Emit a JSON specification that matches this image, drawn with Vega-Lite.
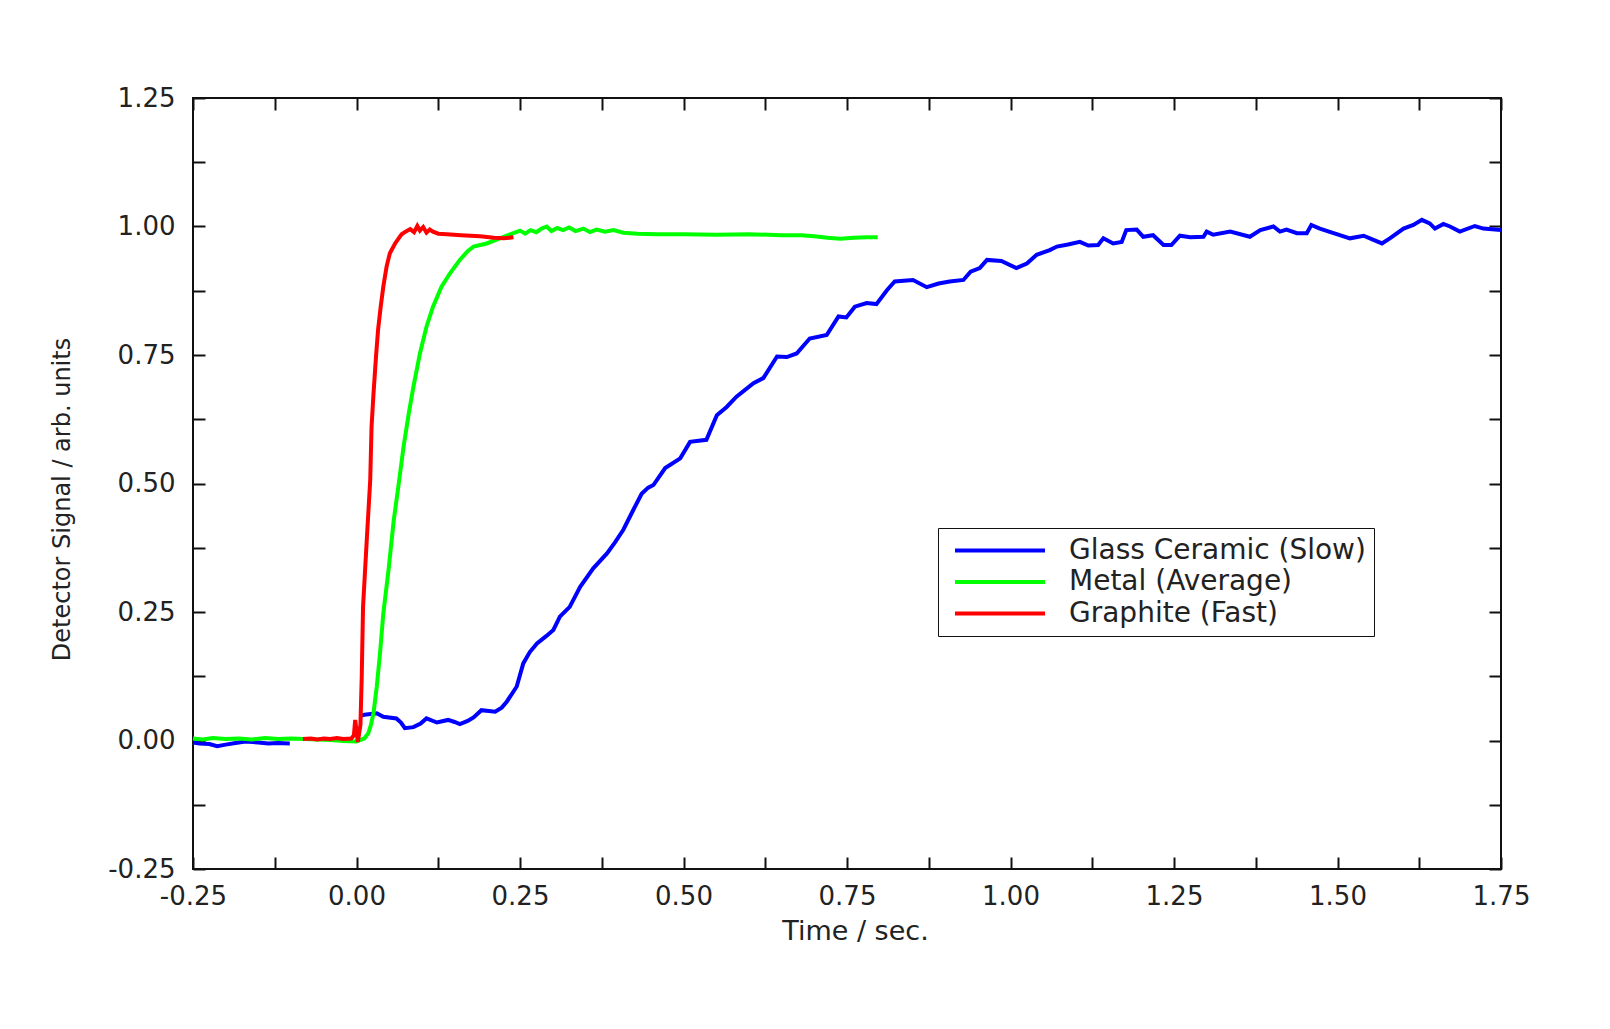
{
  "$schema": "https://vega.github.io/schema/vega-lite/v6.json",
  "width": 1308,
  "height": 771,
  "autosize": {"type": "none"},
  "padding": {"left": 193, "top": 98, "right": 109, "bottom": 160},
  "background": "white",
  "config": {
    "font": "DejaVu Sans",
    "view": {"stroke": "#111", "strokeWidth": 2}
  },
  "data": {
    "values": [
      {"series": "Glass Ceramic (Slow)", "part": "a", "t": -0.25, "v": -0.004},
      {"series": "Glass Ceramic (Slow)", "part": "a", "t": -0.24, "v": -0.006},
      {"series": "Glass Ceramic (Slow)", "part": "a", "t": -0.225, "v": -0.007},
      {"series": "Glass Ceramic (Slow)", "part": "a", "t": -0.213, "v": -0.011},
      {"series": "Glass Ceramic (Slow)", "part": "a", "t": -0.2, "v": -0.008},
      {"series": "Glass Ceramic (Slow)", "part": "a", "t": -0.185, "v": -0.005},
      {"series": "Glass Ceramic (Slow)", "part": "a", "t": -0.17, "v": -0.002},
      {"series": "Glass Ceramic (Slow)", "part": "a", "t": -0.15, "v": -0.004},
      {"series": "Glass Ceramic (Slow)", "part": "a", "t": -0.135, "v": -0.006},
      {"series": "Glass Ceramic (Slow)", "part": "a", "t": -0.12, "v": -0.005},
      {"series": "Glass Ceramic (Slow)", "part": "a", "t": -0.102, "v": -0.006},
      {"series": "Glass Ceramic (Slow)", "part": "b", "t": 0.005, "v": 0.048},
      {"series": "Glass Ceramic (Slow)", "part": "b", "t": 0.012, "v": 0.05},
      {"series": "Glass Ceramic (Slow)", "part": "b", "t": 0.031, "v": 0.053},
      {"series": "Glass Ceramic (Slow)", "part": "b", "t": 0.041, "v": 0.046},
      {"series": "Glass Ceramic (Slow)", "part": "b", "t": 0.061, "v": 0.043},
      {"series": "Glass Ceramic (Slow)", "part": "b", "t": 0.068, "v": 0.035},
      {"series": "Glass Ceramic (Slow)", "part": "b", "t": 0.074, "v": 0.024},
      {"series": "Glass Ceramic (Slow)", "part": "b", "t": 0.087, "v": 0.026},
      {"series": "Glass Ceramic (Slow)", "part": "b", "t": 0.098, "v": 0.033},
      {"series": "Glass Ceramic (Slow)", "part": "b", "t": 0.107, "v": 0.043},
      {"series": "Glass Ceramic (Slow)", "part": "b", "t": 0.123, "v": 0.035},
      {"series": "Glass Ceramic (Slow)", "part": "b", "t": 0.14, "v": 0.04},
      {"series": "Glass Ceramic (Slow)", "part": "b", "t": 0.15, "v": 0.036},
      {"series": "Glass Ceramic (Slow)", "part": "b", "t": 0.158, "v": 0.032},
      {"series": "Glass Ceramic (Slow)", "part": "b", "t": 0.17, "v": 0.038},
      {"series": "Glass Ceramic (Slow)", "part": "b", "t": 0.179, "v": 0.045},
      {"series": "Glass Ceramic (Slow)", "part": "b", "t": 0.191, "v": 0.059},
      {"series": "Glass Ceramic (Slow)", "part": "b", "t": 0.212, "v": 0.056},
      {"series": "Glass Ceramic (Slow)", "part": "b", "t": 0.222, "v": 0.064},
      {"series": "Glass Ceramic (Slow)", "part": "b", "t": 0.23, "v": 0.076},
      {"series": "Glass Ceramic (Slow)", "part": "b", "t": 0.245, "v": 0.105},
      {"series": "Glass Ceramic (Slow)", "part": "b", "t": 0.255, "v": 0.15},
      {"series": "Glass Ceramic (Slow)", "part": "b", "t": 0.265, "v": 0.172},
      {"series": "Glass Ceramic (Slow)", "part": "b", "t": 0.276, "v": 0.189},
      {"series": "Glass Ceramic (Slow)", "part": "b", "t": 0.29, "v": 0.203},
      {"series": "Glass Ceramic (Slow)", "part": "b", "t": 0.301, "v": 0.215},
      {"series": "Glass Ceramic (Slow)", "part": "b", "t": 0.311, "v": 0.241},
      {"series": "Glass Ceramic (Slow)", "part": "b", "t": 0.326, "v": 0.26},
      {"series": "Glass Ceramic (Slow)", "part": "b", "t": 0.342, "v": 0.299},
      {"series": "Glass Ceramic (Slow)", "part": "b", "t": 0.362, "v": 0.335},
      {"series": "Glass Ceramic (Slow)", "part": "b", "t": 0.383, "v": 0.364},
      {"series": "Glass Ceramic (Slow)", "part": "b", "t": 0.395, "v": 0.385},
      {"series": "Glass Ceramic (Slow)", "part": "b", "t": 0.408, "v": 0.41},
      {"series": "Glass Ceramic (Slow)", "part": "b", "t": 0.423, "v": 0.448},
      {"series": "Glass Ceramic (Slow)", "part": "b", "t": 0.436, "v": 0.48},
      {"series": "Glass Ceramic (Slow)", "part": "b", "t": 0.446, "v": 0.492},
      {"series": "Glass Ceramic (Slow)", "part": "b", "t": 0.454, "v": 0.497},
      {"series": "Glass Ceramic (Slow)", "part": "b", "t": 0.472, "v": 0.53},
      {"series": "Glass Ceramic (Slow)", "part": "b", "t": 0.495, "v": 0.549},
      {"series": "Glass Ceramic (Slow)", "part": "b", "t": 0.51, "v": 0.581},
      {"series": "Glass Ceramic (Slow)", "part": "b", "t": 0.535, "v": 0.585},
      {"series": "Glass Ceramic (Slow)", "part": "b", "t": 0.551, "v": 0.633},
      {"series": "Glass Ceramic (Slow)", "part": "b", "t": 0.566, "v": 0.649},
      {"series": "Glass Ceramic (Slow)", "part": "b", "t": 0.581, "v": 0.669},
      {"series": "Glass Ceramic (Slow)", "part": "b", "t": 0.607, "v": 0.695},
      {"series": "Glass Ceramic (Slow)", "part": "b", "t": 0.622, "v": 0.705},
      {"series": "Glass Ceramic (Slow)", "part": "b", "t": 0.643, "v": 0.747},
      {"series": "Glass Ceramic (Slow)", "part": "b", "t": 0.658, "v": 0.746},
      {"series": "Glass Ceramic (Slow)", "part": "b", "t": 0.673, "v": 0.753},
      {"series": "Glass Ceramic (Slow)", "part": "b", "t": 0.693, "v": 0.782},
      {"series": "Glass Ceramic (Slow)", "part": "b", "t": 0.719, "v": 0.789},
      {"series": "Glass Ceramic (Slow)", "part": "b", "t": 0.737, "v": 0.825},
      {"series": "Glass Ceramic (Slow)", "part": "b", "t": 0.749, "v": 0.823},
      {"series": "Glass Ceramic (Slow)", "part": "b", "t": 0.762, "v": 0.844},
      {"series": "Glass Ceramic (Slow)", "part": "b", "t": 0.78, "v": 0.851},
      {"series": "Glass Ceramic (Slow)", "part": "b", "t": 0.795, "v": 0.849},
      {"series": "Glass Ceramic (Slow)", "part": "b", "t": 0.811, "v": 0.876},
      {"series": "Glass Ceramic (Slow)", "part": "b", "t": 0.823, "v": 0.893},
      {"series": "Glass Ceramic (Slow)", "part": "b", "t": 0.851, "v": 0.896},
      {"series": "Glass Ceramic (Slow)", "part": "b", "t": 0.872, "v": 0.882},
      {"series": "Glass Ceramic (Slow)", "part": "b", "t": 0.89, "v": 0.889},
      {"series": "Glass Ceramic (Slow)", "part": "b", "t": 0.907, "v": 0.893},
      {"series": "Glass Ceramic (Slow)", "part": "b", "t": 0.928, "v": 0.896},
      {"series": "Glass Ceramic (Slow)", "part": "b", "t": 0.939, "v": 0.912},
      {"series": "Glass Ceramic (Slow)", "part": "b", "t": 0.953, "v": 0.919},
      {"series": "Glass Ceramic (Slow)", "part": "b", "t": 0.964, "v": 0.935},
      {"series": "Glass Ceramic (Slow)", "part": "b", "t": 0.986, "v": 0.933},
      {"series": "Glass Ceramic (Slow)", "part": "b", "t": 1.009, "v": 0.919},
      {"series": "Glass Ceramic (Slow)", "part": "b", "t": 1.025, "v": 0.928},
      {"series": "Glass Ceramic (Slow)", "part": "b", "t": 1.04, "v": 0.945},
      {"series": "Glass Ceramic (Slow)", "part": "b", "t": 1.06, "v": 0.954},
      {"series": "Glass Ceramic (Slow)", "part": "b", "t": 1.071, "v": 0.961},
      {"series": "Glass Ceramic (Slow)", "part": "b", "t": 1.088, "v": 0.965},
      {"series": "Glass Ceramic (Slow)", "part": "b", "t": 1.106, "v": 0.97},
      {"series": "Glass Ceramic (Slow)", "part": "b", "t": 1.119, "v": 0.963},
      {"series": "Glass Ceramic (Slow)", "part": "b", "t": 1.134, "v": 0.964},
      {"series": "Glass Ceramic (Slow)", "part": "b", "t": 1.142, "v": 0.977},
      {"series": "Glass Ceramic (Slow)", "part": "b", "t": 1.157, "v": 0.967},
      {"series": "Glass Ceramic (Slow)", "part": "b", "t": 1.17, "v": 0.97},
      {"series": "Glass Ceramic (Slow)", "part": "b", "t": 1.177, "v": 0.993},
      {"series": "Glass Ceramic (Slow)", "part": "b", "t": 1.193, "v": 0.994},
      {"series": "Glass Ceramic (Slow)", "part": "b", "t": 1.203, "v": 0.98},
      {"series": "Glass Ceramic (Slow)", "part": "b", "t": 1.218, "v": 0.983},
      {"series": "Glass Ceramic (Slow)", "part": "b", "t": 1.234, "v": 0.964},
      {"series": "Glass Ceramic (Slow)", "part": "b", "t": 1.246, "v": 0.964},
      {"series": "Glass Ceramic (Slow)", "part": "b", "t": 1.259, "v": 0.982},
      {"series": "Glass Ceramic (Slow)", "part": "b", "t": 1.275, "v": 0.979},
      {"series": "Glass Ceramic (Slow)", "part": "b", "t": 1.295, "v": 0.98},
      {"series": "Glass Ceramic (Slow)", "part": "b", "t": 1.3, "v": 0.99},
      {"series": "Glass Ceramic (Slow)", "part": "b", "t": 1.31, "v": 0.984},
      {"series": "Glass Ceramic (Slow)", "part": "b", "t": 1.336, "v": 0.99},
      {"series": "Glass Ceramic (Slow)", "part": "b", "t": 1.366, "v": 0.98},
      {"series": "Glass Ceramic (Slow)", "part": "b", "t": 1.382, "v": 0.993},
      {"series": "Glass Ceramic (Slow)", "part": "b", "t": 1.402, "v": 1.0},
      {"series": "Glass Ceramic (Slow)", "part": "b", "t": 1.412, "v": 0.99},
      {"series": "Glass Ceramic (Slow)", "part": "b", "t": 1.422, "v": 0.994},
      {"series": "Glass Ceramic (Slow)", "part": "b", "t": 1.438, "v": 0.987},
      {"series": "Glass Ceramic (Slow)", "part": "b", "t": 1.453, "v": 0.987},
      {"series": "Glass Ceramic (Slow)", "part": "b", "t": 1.46, "v": 1.003},
      {"series": "Glass Ceramic (Slow)", "part": "b", "t": 1.473, "v": 0.996},
      {"series": "Glass Ceramic (Slow)", "part": "b", "t": 1.494, "v": 0.987},
      {"series": "Glass Ceramic (Slow)", "part": "b", "t": 1.519, "v": 0.977},
      {"series": "Glass Ceramic (Slow)", "part": "b", "t": 1.54, "v": 0.982},
      {"series": "Glass Ceramic (Slow)", "part": "b", "t": 1.555, "v": 0.974},
      {"series": "Glass Ceramic (Slow)", "part": "b", "t": 1.568, "v": 0.967},
      {"series": "Glass Ceramic (Slow)", "part": "b", "t": 1.58, "v": 0.977},
      {"series": "Glass Ceramic (Slow)", "part": "b", "t": 1.601, "v": 0.996},
      {"series": "Glass Ceramic (Slow)", "part": "b", "t": 1.616, "v": 1.003},
      {"series": "Glass Ceramic (Slow)", "part": "b", "t": 1.629, "v": 1.013},
      {"series": "Glass Ceramic (Slow)", "part": "b", "t": 1.641, "v": 1.006},
      {"series": "Glass Ceramic (Slow)", "part": "b", "t": 1.649, "v": 0.996},
      {"series": "Glass Ceramic (Slow)", "part": "b", "t": 1.662, "v": 1.005},
      {"series": "Glass Ceramic (Slow)", "part": "b", "t": 1.672, "v": 1.0},
      {"series": "Glass Ceramic (Slow)", "part": "b", "t": 1.687, "v": 0.99},
      {"series": "Glass Ceramic (Slow)", "part": "b", "t": 1.71, "v": 1.001},
      {"series": "Glass Ceramic (Slow)", "part": "b", "t": 1.723, "v": 0.996},
      {"series": "Glass Ceramic (Slow)", "part": "b", "t": 1.75, "v": 0.993},
      {"series": "Metal (Average)", "part": "a", "t": -0.25, "v": 0.004},
      {"series": "Metal (Average)", "part": "a", "t": -0.235, "v": 0.002},
      {"series": "Metal (Average)", "part": "a", "t": -0.22, "v": 0.005},
      {"series": "Metal (Average)", "part": "a", "t": -0.2, "v": 0.003},
      {"series": "Metal (Average)", "part": "a", "t": -0.18, "v": 0.004},
      {"series": "Metal (Average)", "part": "a", "t": -0.16, "v": 0.002},
      {"series": "Metal (Average)", "part": "a", "t": -0.14, "v": 0.005},
      {"series": "Metal (Average)", "part": "a", "t": -0.12, "v": 0.003},
      {"series": "Metal (Average)", "part": "a", "t": -0.1, "v": 0.004},
      {"series": "Metal (Average)", "part": "a", "t": -0.08, "v": 0.003},
      {"series": "Metal (Average)", "part": "a", "t": -0.06, "v": 0.002},
      {"series": "Metal (Average)", "part": "a", "t": -0.04, "v": 0.001},
      {"series": "Metal (Average)", "part": "a", "t": -0.02, "v": -0.001},
      {"series": "Metal (Average)", "part": "a", "t": 0.0, "v": -0.002},
      {"series": "Metal (Average)", "part": "a", "t": 0.005, "v": 0.001},
      {"series": "Metal (Average)", "part": "a", "t": 0.012, "v": 0.004},
      {"series": "Metal (Average)", "part": "a", "t": 0.018, "v": 0.014},
      {"series": "Metal (Average)", "part": "a", "t": 0.022, "v": 0.03},
      {"series": "Metal (Average)", "part": "a", "t": 0.026, "v": 0.053},
      {"series": "Metal (Average)", "part": "a", "t": 0.031, "v": 0.105},
      {"series": "Metal (Average)", "part": "a", "t": 0.036, "v": 0.17},
      {"series": "Metal (Average)", "part": "a", "t": 0.041, "v": 0.247},
      {"series": "Metal (Average)", "part": "a", "t": 0.049, "v": 0.332},
      {"series": "Metal (Average)", "part": "a", "t": 0.057, "v": 0.429},
      {"series": "Metal (Average)", "part": "a", "t": 0.064, "v": 0.494},
      {"series": "Metal (Average)", "part": "a", "t": 0.072, "v": 0.572},
      {"series": "Metal (Average)", "part": "a", "t": 0.08, "v": 0.637},
      {"series": "Metal (Average)", "part": "a", "t": 0.087, "v": 0.688},
      {"series": "Metal (Average)", "part": "a", "t": 0.097, "v": 0.753},
      {"series": "Metal (Average)", "part": "a", "t": 0.107, "v": 0.805},
      {"series": "Metal (Average)", "part": "a", "t": 0.117, "v": 0.844},
      {"series": "Metal (Average)", "part": "a", "t": 0.13, "v": 0.883},
      {"series": "Metal (Average)", "part": "a", "t": 0.143, "v": 0.909},
      {"series": "Metal (Average)", "part": "a", "t": 0.158, "v": 0.935},
      {"series": "Metal (Average)", "part": "a", "t": 0.17, "v": 0.952},
      {"series": "Metal (Average)", "part": "a", "t": 0.179, "v": 0.961},
      {"series": "Metal (Average)", "part": "a", "t": 0.199, "v": 0.967},
      {"series": "Metal (Average)", "part": "a", "t": 0.219, "v": 0.977},
      {"series": "Metal (Average)", "part": "a", "t": 0.24, "v": 0.987},
      {"series": "Metal (Average)", "part": "a", "t": 0.25, "v": 0.992},
      {"series": "Metal (Average)", "part": "a", "t": 0.258, "v": 0.986},
      {"series": "Metal (Average)", "part": "a", "t": 0.266, "v": 0.993},
      {"series": "Metal (Average)", "part": "a", "t": 0.275, "v": 0.989},
      {"series": "Metal (Average)", "part": "a", "t": 0.283, "v": 0.996},
      {"series": "Metal (Average)", "part": "a", "t": 0.291, "v": 1.0},
      {"series": "Metal (Average)", "part": "a", "t": 0.298, "v": 0.991},
      {"series": "Metal (Average)", "part": "a", "t": 0.307, "v": 0.997},
      {"series": "Metal (Average)", "part": "a", "t": 0.316, "v": 0.993},
      {"series": "Metal (Average)", "part": "a", "t": 0.325, "v": 0.998},
      {"series": "Metal (Average)", "part": "a", "t": 0.335, "v": 0.991},
      {"series": "Metal (Average)", "part": "a", "t": 0.347, "v": 0.996},
      {"series": "Metal (Average)", "part": "a", "t": 0.357, "v": 0.989},
      {"series": "Metal (Average)", "part": "a", "t": 0.367, "v": 0.994},
      {"series": "Metal (Average)", "part": "a", "t": 0.38, "v": 0.99},
      {"series": "Metal (Average)", "part": "a", "t": 0.393, "v": 0.993},
      {"series": "Metal (Average)", "part": "a", "t": 0.408, "v": 0.988},
      {"series": "Metal (Average)", "part": "a", "t": 0.43, "v": 0.986},
      {"series": "Metal (Average)", "part": "a", "t": 0.46, "v": 0.985},
      {"series": "Metal (Average)", "part": "a", "t": 0.5, "v": 0.985},
      {"series": "Metal (Average)", "part": "a", "t": 0.55, "v": 0.984},
      {"series": "Metal (Average)", "part": "a", "t": 0.6, "v": 0.985},
      {"series": "Metal (Average)", "part": "a", "t": 0.65, "v": 0.983},
      {"series": "Metal (Average)", "part": "a", "t": 0.68, "v": 0.983},
      {"series": "Metal (Average)", "part": "a", "t": 0.7, "v": 0.981},
      {"series": "Metal (Average)", "part": "a", "t": 0.72, "v": 0.978},
      {"series": "Metal (Average)", "part": "a", "t": 0.74, "v": 0.976},
      {"series": "Metal (Average)", "part": "a", "t": 0.76, "v": 0.978},
      {"series": "Metal (Average)", "part": "a", "t": 0.78, "v": 0.979},
      {"series": "Metal (Average)", "part": "a", "t": 0.797, "v": 0.979},
      {"series": "Graphite (Fast)", "part": "a", "t": -0.082, "v": 0.003},
      {"series": "Graphite (Fast)", "part": "a", "t": -0.07, "v": 0.004},
      {"series": "Graphite (Fast)", "part": "a", "t": -0.06, "v": 0.002},
      {"series": "Graphite (Fast)", "part": "a", "t": -0.05, "v": 0.004},
      {"series": "Graphite (Fast)", "part": "a", "t": -0.04, "v": 0.003},
      {"series": "Graphite (Fast)", "part": "a", "t": -0.03, "v": 0.005},
      {"series": "Graphite (Fast)", "part": "a", "t": -0.02, "v": 0.003},
      {"series": "Graphite (Fast)", "part": "a", "t": -0.008, "v": 0.004},
      {"series": "Graphite (Fast)", "part": "a", "t": -0.004, "v": 0.01},
      {"series": "Graphite (Fast)", "part": "a", "t": -0.002, "v": 0.04},
      {"series": "Graphite (Fast)", "part": "a", "t": 0.0, "v": 0.02},
      {"series": "Graphite (Fast)", "part": "a", "t": 0.002, "v": -0.003},
      {"series": "Graphite (Fast)", "part": "a", "t": 0.006, "v": 0.03},
      {"series": "Graphite (Fast)", "part": "a", "t": 0.008, "v": 0.124},
      {"series": "Graphite (Fast)", "part": "a", "t": 0.01, "v": 0.26},
      {"series": "Graphite (Fast)", "part": "a", "t": 0.016, "v": 0.397},
      {"series": "Graphite (Fast)", "part": "a", "t": 0.021, "v": 0.507},
      {"series": "Graphite (Fast)", "part": "a", "t": 0.023, "v": 0.61},
      {"series": "Graphite (Fast)", "part": "a", "t": 0.026, "v": 0.675},
      {"series": "Graphite (Fast)", "part": "a", "t": 0.03, "v": 0.75},
      {"series": "Graphite (Fast)", "part": "a", "t": 0.033, "v": 0.799},
      {"series": "Graphite (Fast)", "part": "a", "t": 0.037, "v": 0.844},
      {"series": "Graphite (Fast)", "part": "a", "t": 0.041, "v": 0.883},
      {"series": "Graphite (Fast)", "part": "a", "t": 0.046, "v": 0.922},
      {"series": "Graphite (Fast)", "part": "a", "t": 0.051, "v": 0.948},
      {"series": "Graphite (Fast)", "part": "a", "t": 0.059, "v": 0.967},
      {"series": "Graphite (Fast)", "part": "a", "t": 0.065, "v": 0.978},
      {"series": "Graphite (Fast)", "part": "a", "t": 0.069, "v": 0.985},
      {"series": "Graphite (Fast)", "part": "a", "t": 0.075, "v": 0.99},
      {"series": "Graphite (Fast)", "part": "a", "t": 0.082, "v": 0.995},
      {"series": "Graphite (Fast)", "part": "a", "t": 0.088, "v": 0.989},
      {"series": "Graphite (Fast)", "part": "a", "t": 0.093, "v": 1.001},
      {"series": "Graphite (Fast)", "part": "a", "t": 0.097, "v": 0.992},
      {"series": "Graphite (Fast)", "part": "a", "t": 0.102, "v": 0.999},
      {"series": "Graphite (Fast)", "part": "a", "t": 0.107, "v": 0.988},
      {"series": "Graphite (Fast)", "part": "a", "t": 0.112, "v": 0.994},
      {"series": "Graphite (Fast)", "part": "a", "t": 0.117, "v": 0.99},
      {"series": "Graphite (Fast)", "part": "a", "t": 0.125, "v": 0.986},
      {"series": "Graphite (Fast)", "part": "a", "t": 0.138, "v": 0.985},
      {"series": "Graphite (Fast)", "part": "a", "t": 0.16, "v": 0.983},
      {"series": "Graphite (Fast)", "part": "a", "t": 0.189, "v": 0.981},
      {"series": "Graphite (Fast)", "part": "a", "t": 0.21, "v": 0.978},
      {"series": "Graphite (Fast)", "part": "a", "t": 0.225, "v": 0.977},
      {"series": "Graphite (Fast)", "part": "a", "t": 0.24, "v": 0.979}
    ]
  },
  "layer": [
    {
      "mark": {"type": "line", "strokeWidth": 4},
      "encoding": {
        "x": {
          "field": "t",
          "type": "quantitative",
          "scale": {"domain": [-0.25, 1.75], "nice": false, "zero": false},
          "axis": {
            "orient": "bottom",
            "values": [-0.25, -0.125, 0, 0.125, 0.25, 0.375, 0.5, 0.625, 0.75, 0.875, 1, 1.125, 1.25, 1.375, 1.5, 1.625, 1.75],
            "labelExpr": "abs(round(datum.value*1000)) % 250 == 0 ? (datum.value < 0 ? '-' + format(-datum.value, '.2f') : format(datum.value, '.2f')) : ''",
            "tickSize": -12,
            "tickWidth": 2,
            "tickColor": "#111",
            "domain": false,
            "grid": false,
            "labelFont": "DejaVu Sans",
            "labelFontSize": 26,
            "labelColor": "#222",
            "labelPadding": 39,
            "labelBaseline": "middle",
            "labelFlush": false,
            "labelOverlap": false,
            "title": "Time / sec.",
            "titleFont": "DejaVu Sans",
            "titleFontSize": 27,
            "titleFontWeight": "normal",
            "titleColor": "#222",
            "titleX": 662,
            "titleY": 62,
            "titleBaseline": "middle"
          }
        },
        "y": {
          "field": "v",
          "type": "quantitative",
          "scale": {"domain": [-0.25, 1.25], "nice": false, "zero": false},
          "axis": {
            "orient": "left",
            "values": [-0.25, -0.125, 0, 0.125, 0.25, 0.375, 0.5, 0.625, 0.75, 0.875, 1, 1.125, 1.25],
            "labelExpr": "abs(round(datum.value*1000)) % 250 == 0 ? (datum.value < 0 ? '-' + format(-datum.value, '.2f') : format(datum.value, '.2f')) : ''",
            "tickSize": -12,
            "tickWidth": 2,
            "tickColor": "#111",
            "domain": false,
            "grid": false,
            "labelFont": "DejaVu Sans",
            "labelFontSize": 26,
            "labelColor": "#222",
            "labelPadding": 30,
            "labelBaseline": "middle",
            "labelFlush": false,
            "labelOverlap": false,
            "title": "Detector Signal / arb. units",
            "titleFont": "DejaVu Sans",
            "titleFontSize": 24,
            "titleFontWeight": "normal",
            "titleColor": "#222",
            "titleX": -131,
            "titleY": 401,
            "titleBaseline": "middle"
          }
        },
        "color": {
          "field": "series",
          "type": "nominal",
          "scale": {
            "domain": ["Glass Ceramic (Slow)", "Metal (Average)", "Graphite (Fast)"],
            "range": ["#0000ff", "#00ff00", "#ff0000"]
          },
          "legend": {
            "orient": "none",
            "legendX": 745,
            "legendY": 430,
            "title": null,
            "symbolType": "stroke",
            "symbolSize": 8100,
            "symbolStrokeWidth": 4,
            "symbolOffset": 7,
            "labelOffset": 22,
            "labelLimit": 500,
            "labelFont": "DejaVu Sans",
            "labelFontSize": 28,
            "labelColor": "#222",
            "clipHeight": 29,
            "rowPadding": 2.5,
            "padding": 8,
            "strokeColor": "#111",
            "fillColor": "white"
          }
        },
        "detail": {"field": "part"}
      }
    },
    {
      "mark": {"type": "point", "opacity": 0},
      "encoding": {
        "x": {
          "field": "t",
          "type": "quantitative",
          "scale": {"domain": [-0.25, 1.75], "nice": false, "zero": false},
          "axis": {
            "orient": "top",
            "values": [-0.25, -0.125, 0, 0.125, 0.25, 0.375, 0.5, 0.625, 0.75, 0.875, 1, 1.125, 1.25, 1.375, 1.5, 1.625, 1.75],
            "labels": false,
            "tickSize": -12,
            "tickWidth": 2,
            "tickColor": "#111",
            "domain": false,
            "grid": false,
            "title": null
          }
        },
        "y": {
          "field": "v",
          "type": "quantitative",
          "scale": {"domain": [-0.25, 1.25], "nice": false, "zero": false},
          "axis": {
            "orient": "right",
            "values": [-0.25, -0.125, 0, 0.125, 0.25, 0.375, 0.5, 0.625, 0.75, 0.875, 1, 1.125, 1.25],
            "labels": false,
            "tickSize": -12,
            "tickWidth": 2,
            "tickColor": "#111",
            "domain": false,
            "grid": false,
            "title": null
          }
        }
      }
    }
  ],
  "resolve": {"scale": {"x": "independent", "y": "independent"}, "axis": {"x": "independent", "y": "independent"}}
}
